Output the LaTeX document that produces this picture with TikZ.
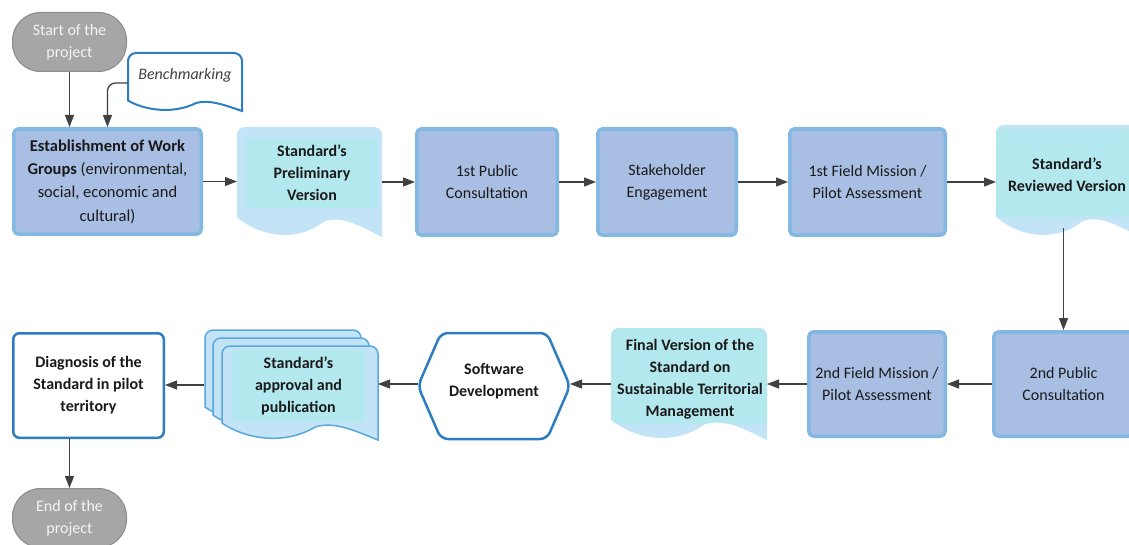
\documentclass[tikz,border=0pt]{standalone}
\usepackage{fontspec}
\setmainfont{Carlito}
\usetikzlibrary{arrows.meta,calc}
\definecolor{boxfill}{HTML}{A8BFE3}
\definecolor{boxline}{HTML}{82B8E2}
\definecolor{doclight}{HTML}{C2E4F6}
\definecolor{doccyan}{HTML}{B4E8EF}
\definecolor{docline}{HTML}{5BA8DE}
\definecolor{bluel}{HTML}{2E7DC0}
\definecolor{arrowc}{HTML}{404040}
\definecolor{termfill}{HTML}{A6A6A6}
\definecolor{termline}{HTML}{8C8C8C}
\definecolor{termtxt}{HTML}{F4F4F4}
\definecolor{txt}{HTML}{1A1A1A}
\newcommand\fs{\fontsize{16}{22}\selectfont}
\newcommand\wavepath[4]{({#1},{#2+0.82*#4}) [rounded corners=8pt] -- ({#1},{#2}) -- ({#1+#3},{#2}) [sharp corners] -- ({#1+#3},{#2+#4}) .. controls ({#1+0.85*#3},{#2+0.90*#4}) and ({#1+0.72*#3},{#2+0.80*#4}) .. ({#1+0.6*#3},{#2+0.86*#4}) .. controls ({#1+0.4*#3},{#2+1.06*#4}) and ({#1+0.15*#3},{#2+0.99*#4}) .. ({#1},{#2+0.82*#4}) -- cycle}
\begin{document}
\begin{tikzpicture}[x=1pt,y=-1pt,
  every node/.style={font=\fs, text=txt},
  proc/.style={draw=boxline, fill=boxfill, line width=3.5pt, rounded corners=5pt, inner sep=2pt, align=center},
  term/.style={draw=termline, fill=termfill, line width=1pt, rounded corners=28pt, align=center, text=termtxt, minimum width=114pt, minimum height=59pt, inner sep=0pt},
  ghost/.style={inner sep=0pt, outer sep=0pt, align=center},
  doctext/.style={inner sep=0pt, outer sep=0pt, align=center, font=\fs\bfseries},
  band/.style={draw=boxline, line width=3pt},
  arr/.style={draw=arrowc, line width=1.3pt, -{Triangle[length=12pt,width=9pt]}}]
\useasboundingbox (0,0) rectangle (1129,545);
\clip (0,0) rectangle (1129,545);

% terminals
\node[term] (start) at (69.5,42) {Start of the\\project};
\node[term] (end) at (69.5,518) {End of the\\project};

% Benchmarking
\draw[draw=bluel, fill=white, line width=2pt] \wavepath{128}{53}{114}{58};
\node[ghost, minimum width=114pt, font=\fs\itshape, text=arrowc] (bench) at (185,75) {Benchmarking};

% row 1
\node[proc, minimum width=187.5pt, minimum height=105.5pt, font=\fontsize{16.5}{23.3}\selectfont] (est) at (107.5,181.5) {\textbf{Establishment of Work}\\\textbf{Groups} (environmental,\\social, economic and\\cultural)};

\fill[doclight] \wavepath{237}{127}{145}{110};
\node[ghost, minimum width=145pt, minimum height=110pt] (prel) at (309.5,182) {};
\node[doctext, fill=doccyan, minimum width=132pt, minimum height=70pt] (prelt) at (312,173) {Standard’s\\Preliminary\\Version};

\node[proc, minimum width=140.5pt, minimum height=106.5pt] (p1) at (487,182) {1st Public\\Consultation};
\node[proc, minimum width=138.5pt, minimum height=106.5pt] (stk) at (667,182) {Stakeholder\\Engagement};
\node[proc, minimum width=155.5pt, minimum height=106.5pt] (fm1) at (867.5,182) {1st Field Mission /\\Pilot Assessment};

\begin{scope}
  \clip \wavepath{996}{125}{144}{112};
  \fill[doclight] (990,120) rectangle (1145,245);
  \fill[doccyan] (990,129) rectangle (1145,217);
\end{scope}
\node[ghost, minimum width=144pt, minimum height=112pt] (rev) at (1068,181) {};
\node[doctext] (revt) at (1067,175) {Standard’s\\Reviewed Version};

% row 2
\node[proc, minimum width=139.5pt, minimum height=104.5pt] (p2) at (1063.5,384) {2nd Public\\Consultation};
\node[proc, minimum width=136.5pt, minimum height=104.5pt] (fm2) at (877,384) {2nd Field Mission /\\Pilot Assessment};

% thicker top bands of the process boxes
\foreach \n in {est,p1,stk,fm1,p2,fm2}
  \draw[band] ([xshift=4pt,yshift=-2.5pt]\n.north west) -- ([xshift=-4pt,yshift=-2.5pt]\n.north east);

\begin{scope}
  \clip \wavepath{611}{328}{156}{112};
  \fill[doclight] (605,320) rectangle (775,450);
  \fill[doccyan] (605,320) rectangle (775,424);
\end{scope}
\node[ghost, minimum width=156pt, minimum height=112pt] (final) at (689,384) {};
\node[doctext] (finalt) at (690,379) {Final Version of the\\Standard on\\Sustainable Territorial\\Management};

\draw[bluel, line width=2.5pt, fill=white, rounded corners=7pt] (494,333) -- (547,333) -- (570,386) -- (547,439) -- (441,439) -- (418,386) -- (441,333) -- cycle;
\node[ghost, minimum width=152pt, minimum height=100pt, font=\fs\bfseries] (sw) at (494,381) {Software\\Development};

\draw[docline, fill=doclight, line width=1.5pt] \wavepath{205}{330}{156}{94};
\draw[docline, fill=doclight, line width=1.5pt] \wavepath{213}{338}{156}{94};
\draw[docline, fill=doclight, line width=1.5pt] \wavepath{222}{346}{156}{94};
\node[ghost, minimum width=174pt, minimum height=110pt] (apprall) at (291,385) {};
\node[doctext, fill=doccyan, minimum width=133pt, minimum height=72pt] (appr) at (298.5,386) {Standard’s\\approval and\\publication};

\node[draw=bluel, fill=white, line width=2.5pt, rounded corners=6pt, minimum width=150.5pt, minimum height=104.5pt, align=center, font=\fs\bfseries] (diag) at (88.5,385.5) {Diagnosis of the\\Standard in pilot\\territory};

% connectors
\draw[arr] (start.south) -- (start.south |- est.north);
\draw[arr, rounded corners=8pt] ([yshift=-8pt]bench.west) -| (est.north);
\draw[arr] (est.east) -- (est.east -| prel.west);
\draw[arr] (prel.east) -- (prel.east -| p1.west);
\draw[arr] (p1.east) -- (p1.east -| stk.west);
\draw[arr] (stk.east) -- (stk.east -| fm1.west);
\draw[arr] (fm1.east) -- (fm1.east -| rev.west);
\draw[arr] ([yshift=9pt]rev.south -| p2.north) -- (p2.north);
\draw[arr] (p2.west) -- (p2.west -| fm2.east);
\draw[arr] (fm2.west) -- (fm2.west -| final.east);
\draw[arr] (final.west) -- (final.west -| sw.east);
\draw[arr] (final.west -| sw.west) -- (final.west -| apprall.east);
\draw[arr] (apprall.west) -- (apprall.west -| diag.east);
\draw[arr] (diag.south -| end.north) -- (end.north);
\end{tikzpicture}
\end{document}
